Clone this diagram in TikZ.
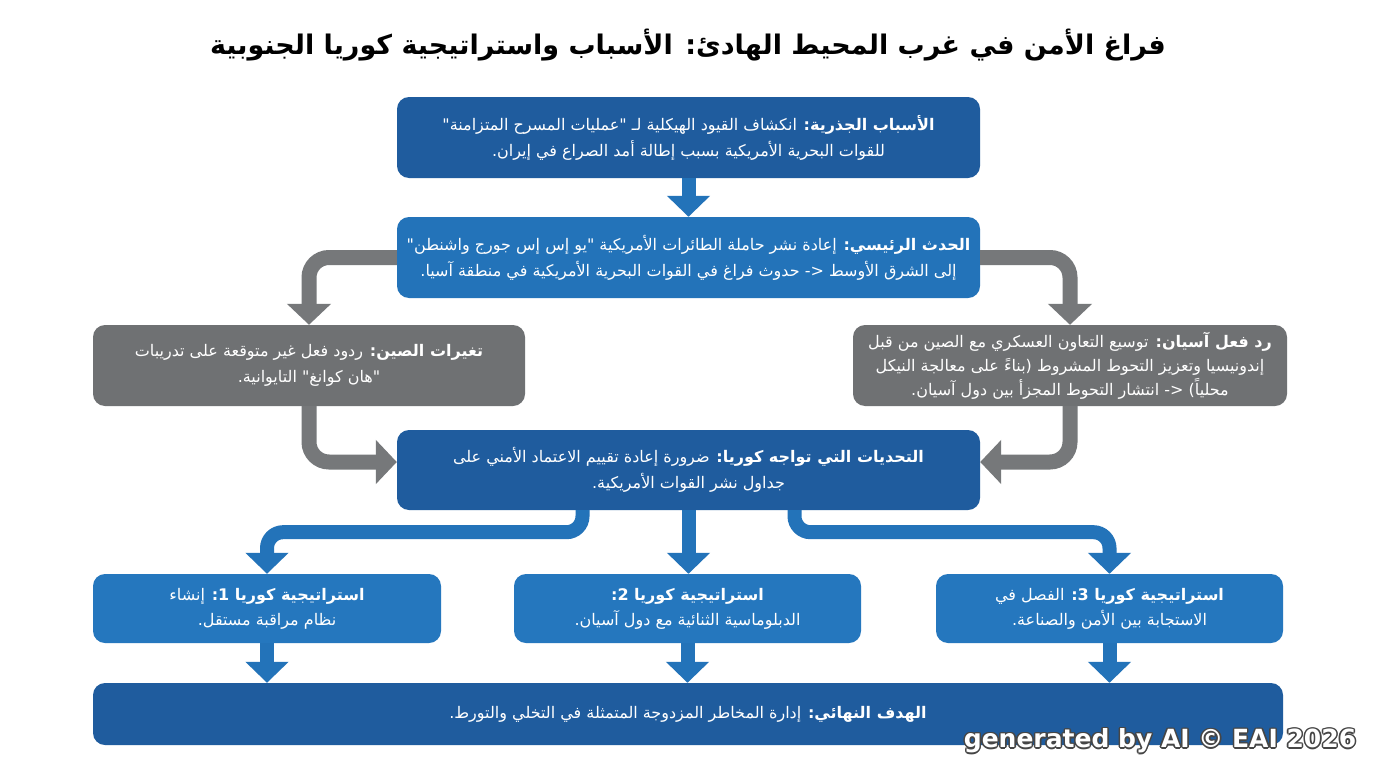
\documentclass[tikz,border=0pt]{standalone}
\usepackage{fontspec}
\setmainfont{DejaVu Sans}
\newfontfamily\arabicfont[Script=Arabic]{DejaVu Sans}
\TeXXeTstate=1
\usetikzlibrary{arrows.meta,calc}
\newcommand\arl[1]{\beginR #1\endR}
\newcommand\larr{\beginL<-\endL}
\definecolor{darkblue}{RGB}{31,92,158}
\definecolor{midblue}{RGB}{35,115,185}
\definecolor{stratblue}{RGB}{37,119,190}
\definecolor{boxgray}{RGB}{111,113,115}
\definecolor{arrowgray}{RGB}{118,120,122}
\definecolor{wmgray}{RGB}{70,70,70}
\tikzset{
  box/.style={rounded corners=12pt, text=white, align=center, inner sep=0pt,
    font=\arabicfont\fontsize{16}{26}\selectfont},
  darkbox/.style={box, fill=darkblue},
  midbox/.style={box, fill=midblue},
  stratbox/.style={box, fill=stratblue},
  graybox/.style={box, fill=boxgray},
  grayarrow/.style={draw=arrowgray, line width=15pt, rounded corners=20pt,
    -{Triangle[width=43pt,length=21pt]}},
  bluearrow/.style={draw=midblue, line width=14pt, rounded corners=16pt,
    -{Triangle[width=42pt,length=21pt]}},
  wm/.style={font=\fontsize{25}{30}\selectfont\bfseries, inner sep=0pt}
}
\begin{document}
\begin{tikzpicture}[x=1pt,y=1pt]
\useasboundingbox[fill=white] (0,0) rectangle (1376,-768);

\node[font=\arabicfont\fontsize{27}{32}\selectfont\bfseries] (title) at (688,-45)
  {\arl{فراغ الأمن في غرب المحيط الهادئ: الأسباب واستراتيجية كوريا الجنوبية}};

\node[darkbox, minimum width=583pt, minimum height=81pt] (box1) at (688.5,-137.5)
  {\arl{\textbf{الأسباب الجذرية:} انكشاف القيود الهيكلية لـ "عمليات المسرح المتزامنة"}\\
   \arl{للقوات البحرية الأمريكية بسبب إطالة أمد الصراع في إيران.}};

\node[midbox, minimum width=583pt, minimum height=81pt] (box2) at (688.5,-257.5)
  {\arl{\textbf{الحدث الرئيسي:} إعادة نشر حاملة الطائرات الأمريكية "يو إس إس جورج واشنطن"}\\
   \arl{إلى الشرق الأوسط \larr{} حدوث فراغ في القوات البحرية الأمريكية في منطقة آسيا.}};

\node[graybox, minimum width=432pt, minimum height=81pt] (china) at (309,-365.5)
  {\arl{\textbf{تغيرات الصين:} ردود فعل غير متوقعة على تدريبات}\\
   \arl{"هان كوانغ" التايوانية.}};

\node[graybox, minimum width=434pt, minimum height=81pt,
      font=\arabicfont\fontsize{16}{24}\selectfont] (asean) at (1070,-365.5)
  {\arl{\textbf{رد فعل آسيان:} توسيع التعاون العسكري مع الصين من قبل}\\
   \arl{إندونيسيا وتعزيز التحوط المشروط (بناءً على معالجة النيكل}\\
   \arl{محلياً) \larr{} انتشار التحوط المجزأ بين دول آسيان.}};

\node[darkbox, minimum width=583pt, minimum height=80pt] (kor) at (688.5,-470)
  {\arl{\textbf{التحديات التي تواجه كوريا:} ضرورة إعادة تقييم الاعتماد الأمني على}\\
   \arl{جداول نشر القوات الأمريكية.}};

\node[stratbox, minimum width=348pt, minimum height=69pt, font=\arabicfont\fontsize{16}{25}\selectfont] (s1) at (267,-608.5)
  {\arl{\textbf{استراتيجية كوريا 1:} إنشاء}\\
   \arl{نظام مراقبة مستقل.}};
\node[stratbox, minimum width=347pt, minimum height=69pt, font=\arabicfont\fontsize{16}{25}\selectfont] (s2) at (687.5,-608.5)
  {\arl{\textbf{استراتيجية كوريا 2:}}\\
   \arl{الدبلوماسية الثنائية مع دول آسيان.}};
\node[stratbox, minimum width=347pt, minimum height=69pt, font=\arabicfont\fontsize{16}{25}\selectfont] (s3) at (1109.5,-608.5)
  {\arl{\textbf{استراتيجية كوريا 3:} الفصل في}\\
   \arl{الاستجابة بين الأمن والصناعة.}};

\node[darkbox, minimum width=1190pt, minimum height=62pt] (final) at (688,-714)
  {\arl{\textbf{الهدف النهائي:} إدارة المخاطر المزدوجة المتمثلة في التخلي والتورط.}};

% connectors
\draw[bluearrow] (box1.south) -- (box2.north);
\draw[grayarrow] (box2.west) -| (china.north);
\draw[grayarrow] (box2.east) -| (asean.north);
\draw[grayarrow] (china.south) |- ([yshift=8pt]kor.west);
\draw[grayarrow] (asean.south) |- ([yshift=8pt]kor.east);
\draw[bluearrow] ([xshift=-106pt]kor.south) -- ++(0,-22) -| (s1.north);
\draw[bluearrow] (kor.south) -- (kor.south |- s2.north);
\draw[bluearrow] ([xshift=106pt]kor.south) -- ++(0,-22) -| (s3.north);
\draw[bluearrow] (s1.south) -- (s1.south |- final.north);
\draw[bluearrow] (s2.south) -- (s2.south |- final.north);
\draw[bluearrow] (s3.south) -- (s3.south |- final.north);

% watermark
\foreach \dx/\dy [count=\i] in {1.6/0,-1.6/0,0/1.6,0/-1.6,1.1/1.1,-1.1/1.1,1.1/-1.1,-1.1/-1.1}
  \node[wm, text=wmgray] (wmshadow\i) at (1160+\dx,-741+\dy) {generated by AI © EAI 2026};
\node[wm, text=white] (wm) at (1160,-741) {generated by AI © EAI 2026};
\end{tikzpicture}
\end{document}
